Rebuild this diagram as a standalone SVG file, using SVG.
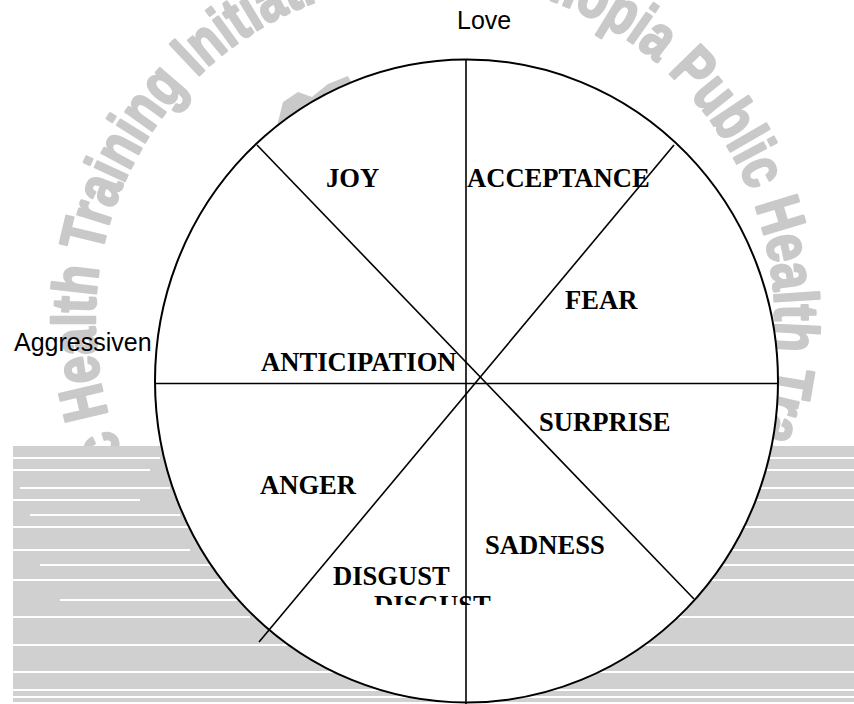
<svg xmlns="http://www.w3.org/2000/svg" width="854" height="704" viewBox="0 0 854 704">
<style>
.wm{font-family:"Liberation Sans",Arial,sans-serif;font-weight:bold;font-size:62px;fill:#c9c9c9;stroke:#c9c9c9;stroke-width:2.5;stroke-linejoin:round}
.lbl{font-family:"Liberation Serif","Times New Roman",serif;font-weight:bold;font-size:26.6px;fill:#000}
.ax{font-family:"Liberation Sans",Arial,sans-serif;font-size:25px;fill:#000}
.ln{stroke:#000;stroke-width:1.6;fill:none}
.stripe{stroke:#fff;stroke-width:2;fill:none}
</style>
<defs>
<path id="ring" d="M435 660 A340 340 0 0 1 95 320 A340 340 0 0 1 435 -20 A340 340 0 0 1 775 320 A340 340 0 0 1 435 660 A340 340 0 0 1 95 320 A340 340 0 0 1 435 -20 A340 340 0 0 1 775 320 A340 340 0 0 1 435 660"/>
<clipPath id="cutDisgust"><rect x="300" y="560" width="250" height="45"/></clipPath>
</defs>
<rect width="854" height="704" fill="#fff"/>
<g id="watermark">
<text class="wm"><textPath href="#ring" startOffset="71" textLength="931" lengthAdjust="spacingAndGlyphs">Ethiopia Public Health Training Initiative</textPath></text>
<text class="wm"><textPath href="#ring" startOffset="1117" textLength="931" lengthAdjust="spacingAndGlyphs">Ethiopia Public Health Training Initiative</textPath></text>
<polygon points="276,130 283,102 298,92 312,97 328,84 348,76 356,92 300,132" fill="#c9c9c9"/>
<rect x="13" y="446" width="841" height="256" fill="#d0d0d0"/>
<path class="stripe" d="M13 458H160M700 458H854M13 470H150M740 470H854M20 488H170M690 488H854M13 500H140M700 500H854M30 515H180M13 527H200M690 527H854M13 550H190M620 550H854M40 565H210M620 565H854M13 580H230M600 580H854M60 600H240M13 617H250M590 617H854M13 645H300M550 645H854M13 672H360M500 672H854M13 690H854M13 697H854"/>
</g>
<text id="axis-aggressiveness" class="ax" x="14" y="351">Aggressiven</text>
<g id="wheel">
<ellipse cx="466.5" cy="381" rx="311.5" ry="321.5" fill="#fff" stroke="#000" stroke-width="2"/>
</g>
<g id="connectors">
<line class="ln" x1="466" y1="60" x2="466" y2="704"/>
<line class="ln" x1="155" y1="383.5" x2="778" y2="383.5" stroke-width="2"/>
<line class="ln" x1="257" y1="145" x2="694" y2="599"/>
<line class="ln" x1="674" y1="145" x2="259" y2="642"/>
</g>
<text id="axis-love" class="ax" x="457" y="29">Love</text>
<g id="joy"><text class="lbl" x="326" y="187">JOY</text></g>
<g id="acceptance"><text class="lbl" x="467" y="187">ACCEPTANCE</text></g>
<g id="fear"><text class="lbl" x="565" y="309">FEAR</text></g>
<g id="anticipation"><text class="lbl" x="261" y="371">ANTICIPATION</text></g>
<g id="surprise"><text class="lbl" x="539" y="431">SURPRISE</text></g>
<g id="anger"><text class="lbl" x="260" y="494">ANGER</text></g>
<g id="sadness"><text class="lbl" x="485" y="554">SADNESS</text></g>
<g id="disgust"><text class="lbl" x="333" y="585">DISGUST</text></g>
<g id="disgust-2" clip-path="url(#cutDisgust)"><text class="lbl" x="374" y="614">DISGUST</text></g>
</svg>
